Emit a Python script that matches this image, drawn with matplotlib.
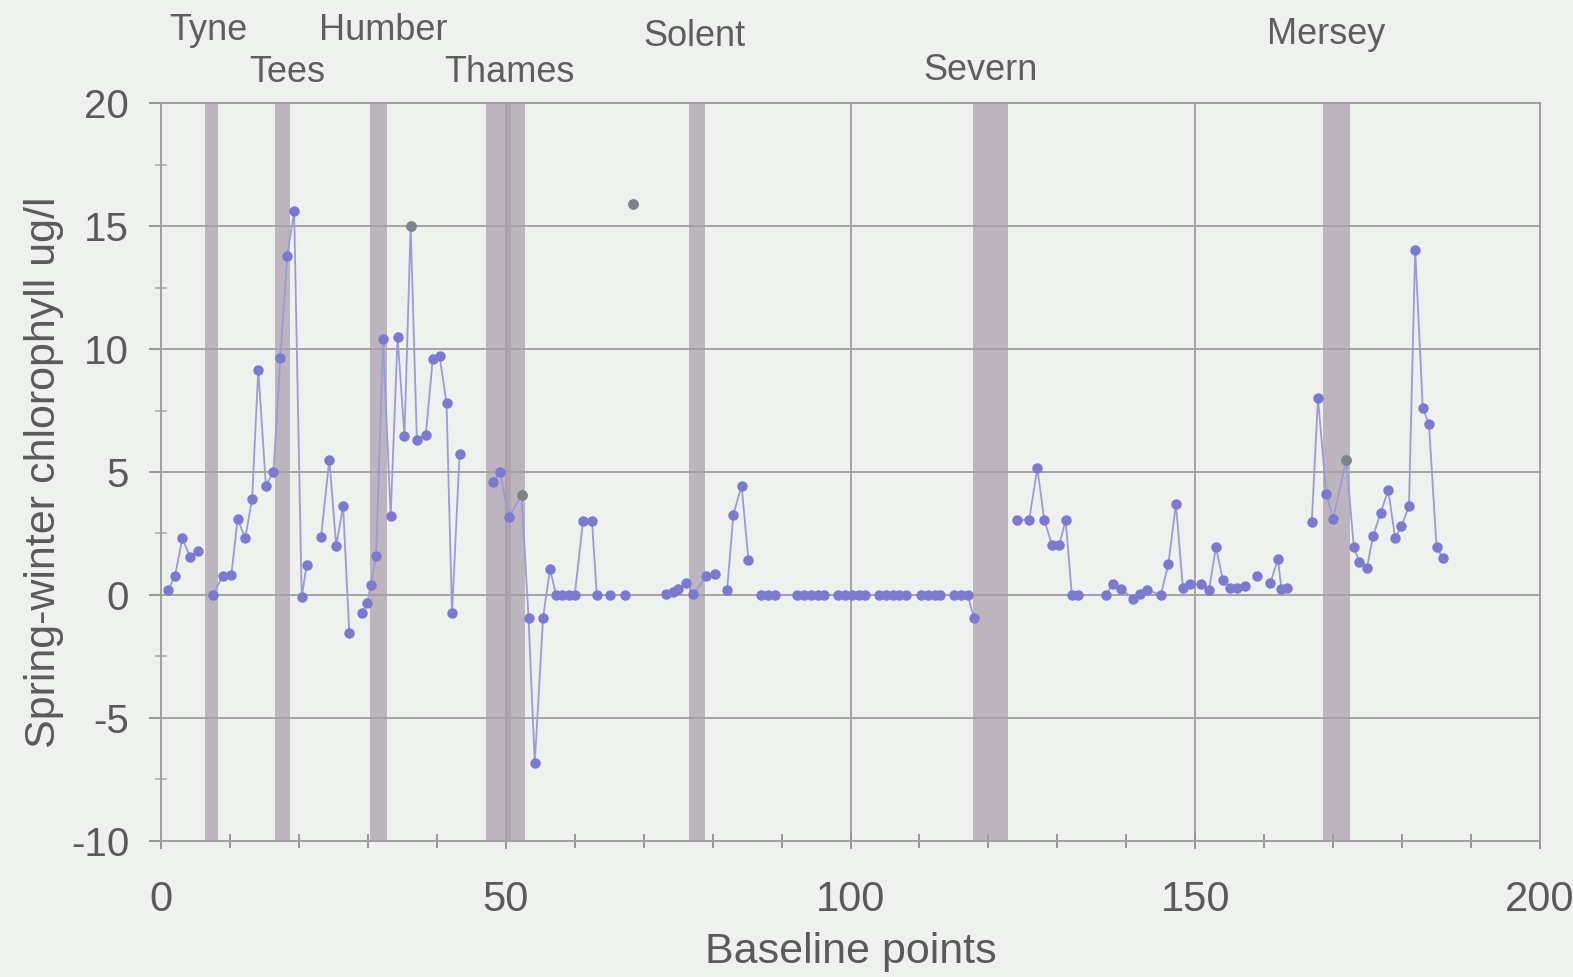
import numpy as np
import matplotlib.pyplot as plt
from matplotlib.ticker import MultipleLocator

plt.rcParams['axes.unicode_minus'] = False

nan = np.nan

# baseline point positions and spring-winter chlorophyll difference (ug/l)
# nan = break in the line
pts_x = [1.0, 2.0, 3.1, 4.2, 5.4, nan,
         7.5, 9.0, 10.2, 11.1, 12.2, 13.2, 14.1, 15.2, 16.3, 17.3, 18.3, 19.3, 20.4, 21.1, nan,
         23.2, 24.4, 25.4, 26.4, 27.3, nan,
         29.1, 29.9, 30.4, 31.2, 32.2, 33.3, 34.3, 35.3, 36.2, 37.1, 38.4, 39.4, 40.4, 41.4, 42.2, 43.3, nan,
         48.2, 49.2, 50.4, 52.3, 53.3, 54.2, 55.4, 56.4, 57.3, 58.2, 59.1, 60.0, 61.2, 62.5, 63.2, 65.1, 67.3, nan,
         68.5, nan,
         73.3, 74.3, 75.0, 76.2, 77.2, 79.1, 80.3, nan,
         82.1, 83.0, 84.2, 85.2, nan,
         87.0, 88.0, 89.0, 92.3, 93.3, 94.3, 95.3, 96.2, 98.2, 99.2, 100.2, 101.2, 102.1,
         104.1, 105.1, 106.1, 107.1, 108.1, 110.2, 111.2, 112.2, 113.0, 115.0, 116.0, 117.0, 117.9, nan,
         124.1, 125.9, 127.1, 128.1, 129.2, 130.3, 131.2, 132.1, 133.0, 137.1, 138.0, 139.2, 141.0,
         142.0, 143.0, 145.0, 146.1, 147.2, 148.2, 149.2, 150.9, 152.0, 153.0, 154.0, 155.0, 156.1, 157.2, nan,
         158.9, nan,
         160.9, 162.0, 162.5, 163.3, nan,
         166.9, 167.8, 169.0, 170.0, 171.9, 173.0, 173.8, 174.9, 175.8, 176.9, 178.0, 179.0, 179.9,
         181.0, 181.9, 183.0, 183.9, 185.0, 185.9]
pts_y = [0.2, 0.75, 2.3, 1.55, 1.8, nan,
         0.0, 0.78, 0.82, 3.1, 2.3, 3.9, 9.15, 4.45, 5.0, 9.65, 13.8, 15.6, -0.1, 1.2, nan,
         2.35, 5.5, 2.0, 3.6, -1.55, nan,
         -0.75, -0.35, 0.4, 1.6, 10.4, 3.2, 10.5, 6.45, 15.0, 6.3, 6.5, 9.6, 9.7, 7.8, -0.75, 5.75, nan,
         4.6, 5.0, 3.15, 4.05, -0.95, -6.85, -0.95, 1.05, 0.0, 0.0, 0.0, 0.0, 3.0, 3.0, 0.0, 0.0, 0.0, nan,
         15.9, nan,
         0.05, 0.1, 0.25, 0.5, 0.05, 0.75, 0.85, nan,
         0.2, 3.25, 4.45, 1.4, nan,
         0.0, 0.0, 0.0, 0.0, 0.0, 0.0, 0.0, 0.0, 0.0, 0.0, 0.0, 0.0, 0.0,
         0.0, 0.0, 0.0, 0.0, 0.0, 0.0, 0.0, 0.0, 0.0, 0.0, 0.0, 0.0, -0.95, nan,
         3.05, 3.05, 5.15, 3.05, 2.05, 2.05, 3.05, 0.0, 0.0, 0.0, 0.45, 0.25, -0.15,
         0.05, 0.2, 0.0, 1.25, 3.7, 0.3, 0.45, 0.45, 0.2, 1.95, 0.6, 0.3, 0.3, 0.35, nan,
         0.75, nan,
         0.5, 1.45, 0.25, 0.3, nan,
         2.95, 8.0, 4.1, 3.1, 5.5, 1.95, 1.35, 1.1, 2.4, 3.35, 4.25, 2.3, 2.8,
         3.6, 14.05, 7.6, 6.95, 1.95, 1.5]

# points whose markers show grey in the original
grey_x = [36.2, 52.3, 68.5, 171.9]

# estuary bands (baseline point ranges)
band_start = [6.4, 16.5, 30.3, 47.2, 49.9, 76.6, 117.8, 168.6]
band_end = [8.3, 18.7, 32.7, 50.8, 52.8, 78.9, 122.8, 172.4]

estuaries = ['Tyne', 'Tees', 'Humber', 'Thames', 'Solent', 'Severn', 'Mersey']
label_x = [6.8, 18.3, 32.2, 50.6, 77.3, 118.9, 169.0]
label_y = [22.95, 21.25, 22.95, 21.25, 22.7, 21.35, 22.8]

bg = '#eff1ef'
txt = '#5a5a5a'
fam = ['Liberation Sans', 'DejaVu Sans']

fig = plt.figure(figsize=(15.73, 9.77), dpi=100, facecolor=bg)
ax = fig.add_axes([0.1024, 0.1395, 0.8766, 0.7548], facecolor=bg)

for s, e in zip(band_start, band_end):
    ax.axvspan(s, e, color='#aa9eaa', alpha=0.72, lw=0, zorder=1)

ax.grid(True, color='#a3a3a3', linewidth=1.4, zorder=0)
ax.set_axisbelow(True)

x = np.array(pts_x)
y = np.array(pts_y)
ax.plot(x, y, color='#9d9ad6', linewidth=1.3, zorder=3)
ax.plot(x, y, linestyle='none', marker='o', markersize=6.5,
        markerfacecolor='#7c79d0', markeredgecolor='#7c79d0', zorder=4)
grey = np.isin(x, grey_x)
ax.plot(x[grey], y[grey], linestyle='none', marker='o', markersize=6.5,
        markerfacecolor='#7c8584', markeredgecolor='#7c8584', zorder=5)

for name, lx, ly in zip(estuaries, label_x, label_y):
    ax.text(lx, ly, name, ha='center', va='center', fontsize=26, color='#5e5e5e',
            family=fam, clip_on=False)

ax.set_xlim(0, 200)
ax.set_ylim(-10, 20)
ax.xaxis.set_major_locator(MultipleLocator(50))
ax.xaxis.set_minor_locator(MultipleLocator(10))
ax.yaxis.set_major_locator(MultipleLocator(5))
ax.yaxis.set_minor_locator(MultipleLocator(2.5))

for sp in ax.spines.values():
    sp.set_color('#a0a0a0')
    sp.set_linewidth(1.4)

ax.tick_params(axis='x', which='major', direction='inout', length=12, width=1.3,
               color='#909090', pad=22, labelsize=30, labelcolor=txt)
ax.tick_params(axis='x', which='minor', direction='inout', length=10, width=1.3, color='#909090')
ax.tick_params(axis='y', which='major', direction='out', length=9, width=1.3,
               color='#909090', pad=14, labelsize=29, labelcolor=txt)
ax.tick_params(axis='y', which='minor', direction='inout', length=8, width=1.3, color='#b0b0b0')
for lab in ax.get_xticklabels() + ax.get_yticklabels():
    lab.set_family(fam)

ax.set_xlabel('Baseline points', fontsize=31, color=txt, family=fam, labelpad=9)
ax.set_ylabel('Spring-winter chlorophyll ug/l', fontsize=31, color=txt, family=fam, labelpad=5)

plt.savefig('out.png', dpi=100, facecolor=bg)
